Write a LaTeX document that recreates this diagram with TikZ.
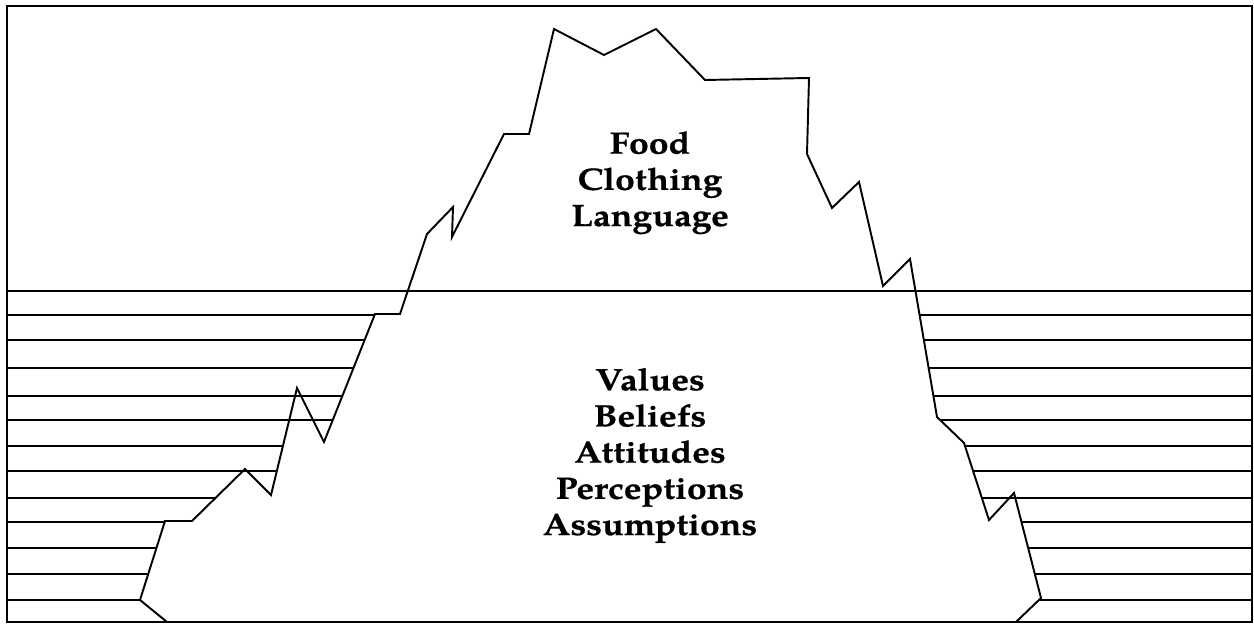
\documentclass[tikz,border=0pt]{standalone}
\usepackage{fontspec}
\setmainfont{texgyrepagella}[Extension=.otf,UprightFont=*-regular,BoldFont=*-bold,ItalicFont=*-italic,BoldItalicFont=*-bolditalic]
\newfontfamily\bergfont{texgyrepagella}[Extension=.otf,UprightFont=*-bold,FakeStretch=1.15,FakeBold=0.6]
\begin{document}
\begin{tikzpicture}[x=0.02cm, y=-0.02cm, line width=1.1pt, line join=miter]
                \tikzstyle{label}=[
                    align=center, inner sep=0pt, anchor=base,
                    font=\fontsize{17.6}{20.6}\bergfont]
                \useasboundingbox (0, 0) rectangle (1254, 624);

                \draw (7, 6) rectangle (1252, 622);
                \draw (7, 291) -- (1252, 291);

                \foreach \y / \xl / \xr in {315/374.6/919.6, 340/364.6/923.8,
                        368/353.5/928.6, 396/342.3/933.4, 420/332.8/940.1,
                        446/282.9/965, 471/276.8/973.1, 498/215.4/981.9,
                        522/164.7/1021.5, 548/156.5/1028.1, 574/148.2/1034.8,
                        600/140/1039}
                    \draw (7, \y) -- (\xl, \y) (\xr, \y) -- (1252, \y);

                \draw (140, 600) -- (165, 521) -- (192, 521) -- (245, 469)
                    -- (271, 495) -- (297, 388) -- (324, 442) -- (375, 314)
                    -- (400, 314) -- (427, 234) -- (453, 207) -- (452, 237)
                    -- (504, 134) -- (529, 134) -- (554, 29) -- (604, 55)
                    -- (656, 29) -- (705, 80) -- (809, 78) -- (807, 154)
                    -- (832, 208) -- (859, 182) -- (883, 286) -- (910, 259)
                    -- (937, 417) -- (964, 443) -- (989, 520) -- (1014, 493)
                    -- (1041, 598) -- (1016, 622) -- (167, 622) -- cycle;

                \node [label] (above) at (650, 226) {Food\\Clothing\\Language};
                \node [label] (below) at (650, 535)
                    {Values\\Beliefs\\Attitudes\\Perceptions\\Assumptions};
            \end{tikzpicture}
\end{document}
